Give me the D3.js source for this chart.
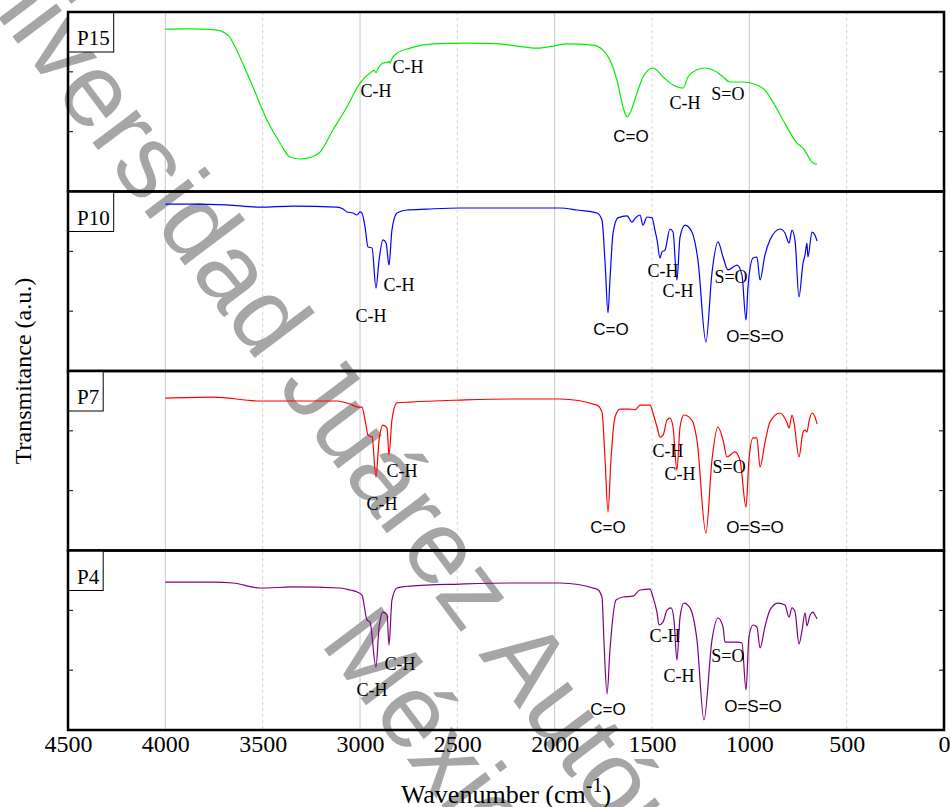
<!DOCTYPE html>
<html>
<head>
<meta charset="utf-8">
<script src="https://cdn.jsdelivr.net/npm/d3@7"></script>
<style>
  html, body { margin: 0; padding: 0; background: #fff; }
  svg { display: block; }
</style>
</head>
<body>
<svg id="chart" width="950" height="807"></svg>
<script>
// ---------------- DATA ----------------
const panelNames = ["P15", "P10", "P7", "P4"];
const xTicks = [4500, 4000, 3500, 3000, 2500, 2000, 1500, 1000, 500, 0];
const solidGrid = [4000, 3000, 2000, 1000];
const dashedGrid = [3500, 2500, 1500, 500];

// spectra: [wavenumber (cm-1), transmittance (a.u., 0-100 within panel)]
const p15 = [[4000,90.5],[3860,90.6],[3755,90.2],[3719,89.6],[3690,88],[3668,85.8],[3652,82.7],[3550,58.2],[3478,39.8],[3411,27.0],[3360,19.2],[3308,18.1],[3241,19.5],[3205,22],[3139,34.3],[3067,47.1],[3000,60.4],[2949,66.0],[2928,67.5],[2918,66.2],[2908,68.5],[2882,71.6],[2856,72.1],[2851,72.5],[2846,71.6],[2836,74],[2810,77.1],[2743,79.9],[2625,82.2],[2450,82.7],[2281,82.2],[2193,81.0],[2091,79.9],[2009,81.0],[1937,82.2],[1803,81.6],[1752,78.8],[1716,73.2],[1680,62.1],[1649,47.1],[1628,41.5],[1613,43.7],[1577,54.9],[1546,63.8],[1495,68.8],[1443,63.8],[1392,59.3],[1341,57.6],[1315,63.8],[1289,66.6],[1228,68.8],[1176,67.1],[1135,63.8],[1099,61.0],[1033,61.0],[961,59.3],[920,56.5],[879,49.9],[827,39.8],[755,27.0],[724,24.2],[673,15.9],[652,15.3]];

const p10 = [[4000,93.0],[3858,93.0],[3683,92.5],[3514,91.3],[3344,91.9],[3118,91.3],[3087,90.2],[3067,88.6],[3036,88.0],[3015,86.9],[3000,88.6],[2990,88.0],[2974,80.2],[2959,69.1],[2938,68.5],[2918,46.2],[2902,61.8],[2882,73.0],[2866,71.3],[2851,59.0],[2836,78.5],[2810,88.0],[2759,89.7],[2656,90.2],[2486,90.8],[1973,90.8],[1885,89.7],[1783,88.0],[1757,84.1],[1741,60.2],[1726,32.3],[1716,50.7],[1700,76.9],[1675,85.3],[1628,86.4],[1603,82.9],[1587,85],[1562,86.9],[1546,81.3],[1526,85.8],[1500,85.3],[1485,78.5],[1474,73.0],[1459,62.9],[1449,66.3],[1433,67.4],[1408,79.1],[1392,77.4],[1372,50.7],[1356,74.6],[1330,81.3],[1295,77.4],[1264,61.8],[1223,16.2],[1192,54.6],[1161,71.9],[1135,63.5],[1110,56.3],[1063,59.0],[1038,53.5],[1017,28.4],[1007,46.8],[981,62.9],[961,63.5],[945,50.7],[920,64.6],[894,73.0],[842,79.1],[817,76.9],[796,71.3],[781,78.5],[765,72.4],[745,41.2],[724,60.2],[714,64.6],[704,71.3],[699,63.5],[678,77.4],[663,75.8],[652,72.4]];

const p7 = [[4000,84.9],[3755,85.5],[3514,83.3],[3118,83.3],[3051,81.6],[3010,79.9],[2990,79.9],[2974,72.7],[2959,64.3],[2938,63.2],[2918,40.9],[2902,61.5],[2882,69.9],[2861,68.2],[2851,53.2],[2836,72.7],[2810,82.2],[2743,82.7],[2486,83.8],[2229,84.4],[1973,84.4],[1783,81.0],[1757,77.1],[1741,50.4],[1726,21.4],[1711,50.4],[1690,74.4],[1664,78.8],[1613,78.8],[1587,78.3],[1562,81.0],[1510,81.0],[1495,76.6],[1474,68.8],[1459,63.2],[1443,64.3],[1423,72.7],[1408,73.8],[1392,68.8],[1372,44.8],[1356,68.8],[1336,75.5],[1295,72.7],[1269,61.5],[1223,9.7],[1192,50.4],[1161,68.8],[1135,61.5],[1115,52.1],[1074,54.9],[1048,50.4],[1017,24.2],[1002,50.4],[981,62.7],[961,62.7],[945,46.5],[920,59.9],[894,71.6],[842,76.6],[806,71.0],[796,68.2],[781,75.5],[770,71.0],[745,52.1],[724,66.0],[714,67.1],[704,66.0],[694,71.6],[678,76.6],[663,74.4],[652,70.5]];

const p4 = [[4000,82.4],[3755,82.4],[3652,81.9],[3514,79.1],[3344,79.7],[3103,79.1],[3051,78.0],[3015,76.9],[2990,75.2],[2964,61.3],[2949,60.2],[2918,35.1],[2902,57.4],[2882,65.7],[2861,64.1],[2851,47.3],[2836,72.4],[2810,79.1],[2743,80.2],[2486,81.3],[2229,81.9],[1973,81.9],[1783,78.5],[1757,74.1],[1747,50.1],[1731,20.1],[1716,44.6],[1685,72.4],[1649,74.1],[1598,74.6],[1562,78.0],[1510,78.5],[1495,74.1],[1474,65.2],[1464,58.5],[1443,60.2],[1423,66.8],[1402,68.0],[1387,61.3],[1372,39.0],[1356,62.9],[1336,70.7],[1305,68.0],[1269,50.1],[1233,5.6],[1192,50.1],[1161,62.4],[1135,57.4],[1125,49.0],[1063,49.0],[1038,48.5],[1017,22.3],[1002,51.8],[981,58.5],[961,57.4],[945,45.7],[920,57.4],[894,66.8],[853,70.7],[817,69.6],[796,62.9],[781,68.0],[765,65.7],[745,47.9],[729,55.7],[714,65.2],[704,58.0],[688,64.1],[673,65.7],[663,64.1],[652,61.8]];

// band annotations: [text, wavenumber, transmittance]
const ann15 = [["C-H",2918,52.6],["C-H",2754,66.0],["C=O",1608,27.6],["C-H",1330,46.0],["S=O",1110,51.0]];
const ann10 = [["C-H",2800,44.6],["C-H",2943,27.3],["C=O",1711,20.1],["C-H",1443,52.4],["C-H",1366,41.2],["S=O",1094,49.0],["O=S=O",971,16.2]];
const ann7  = [["C-H",2784,40.9],["C-H",2887,22.6],["C=O",1726,9.7],["C-H",1418,52.1],["C-H",1356,39.3],["S=O",1104,43.2],["O=S=O",971,9.7]];
const ann4  = [["C-H",2794,33.4],["C-H",2938,18.9],["C=O",1726,8.4],["C-H",1433,49.0],["C-H",1361,26.7],["S=O",1110,37.9],["O=S=O",981,10.0]];

const spectra = [p15, p10, p7, p4];
const annotations = [ann15, ann10, ann7, ann4];
const lineColors = ["#00ee00", "#0000ff", "#ff0000", "#800080"];

// ---------------- DRAW ----------------
const svg = d3.select("#chart");
const L = 68, R = 944, T = 12, B = 730;
const panelH = (B - T) / 4;
const serif = "'Liberation Serif', 'Times New Roman', serif";
const sans = "'Liberation Sans', Arial, sans-serif";

const x = d3.scaleLinear().domain([4500, 0]).range([L, R]);

svg.append("rect").attr("width", 950).attr("height", 807).attr("fill", "#fff");

// grid lines
svg.append("g").selectAll("line").data(solidGrid).join("line")
  .attr("x1", d => x(d)).attr("x2", d => x(d)).attr("y1", T).attr("y2", B)
  .attr("stroke", "#c8c8c8").attr("stroke-width", 1);
svg.append("g").selectAll("line").data(dashedGrid).join("line")
  .attr("x1", d => x(d)).attr("x2", d => x(d)).attr("y1", T).attr("y2", B)
  .attr("stroke", "#d4d4d4").attr("stroke-width", 1).attr("stroke-dasharray", "3,3");

// watermark
const wm = svg.append("g").attr("transform", "translate(514,702) rotate(53)")
  .attr("font-family", sans).attr("font-size", 104).attr("fill", "#a6a6a6")
  .attr("text-anchor", "middle");
wm.append("text").attr("x", 0).attr("y", 0).text("Universidad Juárez Autónoma de Tabasco");
wm.append("text").attr("x", 0).attr("y", 120).text("México");

spectra.forEach((data, i) => {
  const top = T + i * panelH, bot = top + panelH;
  const y = d3.scaleLinear().domain([0, 100]).range([bot, top]);
  const g = svg.append("g");

  // small y ticks
  [100/3, 200/3].forEach(v => {
    g.append("line").attr("x1", L).attr("x2", L + 5).attr("y1", y(v)).attr("y2", y(v))
      .attr("stroke", "#000").attr("stroke-width", 1);
    g.append("line").attr("x1", R - 5).attr("x2", R).attr("y1", y(v)).attr("y2", y(v))
      .attr("stroke", "#000").attr("stroke-width", 1);
  });

  const line = d3.line().x(d => x(d[0])).y(d => y(d[1])).curve(d3.curveMonotoneX);
  g.append("path").datum(data).attr("d", line)
    .attr("fill", "none").attr("stroke", lineColors[i]).attr("stroke-width", 1.2);

  annotations[i].forEach(a => {
    const useSans = a[0] === "C=O" || a[0] === "O=S=O";
    g.append("text").attr("x", x(a[1])).attr("y", y(a[2]))
      .attr("text-anchor", "middle")
      .attr("font-family", useSans ? sans : serif)
      .attr("font-size", useSans ? 17 : 18)
      .attr("fill", "#000").text(a[0]);
  });

  // panel border
  g.append("rect").attr("x", L).attr("y", top).attr("width", R - L).attr("height", panelH)
    .attr("fill", "none").attr("stroke", "#000").attr("stroke-width", 2.5);

  // name box
  const t = g.append("text").attr("x", L + 9).attr("y", top + 33)
    .attr("font-family", serif).attr("font-size", 21).text(panelNames[i]);
  const w = t.node().getComputedTextLength();
  g.insert("rect", "text").attr("x", L).attr("y", top).attr("width", w + 13).attr("height", 40)
    .attr("fill", "#fff").attr("stroke", "#000").attr("stroke-width", 1);
});

// x axis
const ax = svg.append("g").attr("transform", `translate(0,${B})`)
  .call(d3.axisBottom(x).tickValues(xTicks).tickFormat(d3.format("d")).tickSizeInner(0).tickSizeOuter(0).tickPadding(5));
ax.select(".domain").remove();
ax.attr("font-family", serif);
ax.selectAll("text").attr("font-family", serif).attr("font-size", 24).attr("fill", "#000");

// axis titles
const xt = svg.append("text").attr("x", (L + R) / 2).attr("y", 803).attr("text-anchor", "middle")
  .attr("font-family", serif).attr("font-size", 26).attr("fill", "#000");
xt.append("tspan").text("Wavenumber (cm");
xt.append("tspan").attr("dy", -11).attr("font-size", 20).text("-1");
xt.append("tspan").attr("dy", 11).text(")");

svg.append("text").attr("transform", `translate(31,${(T + B) / 2}) rotate(-90)`)
  .attr("text-anchor", "middle").attr("font-family", serif).attr("font-size", 24)
  .attr("fill", "#000").text("Transmitance (a.u.)");
</script>
</body>
</html>
